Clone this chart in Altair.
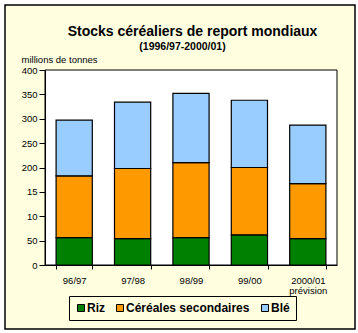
import altair as alt
import pandas as pd

years = ["96/97", "97/98", "98/99", "99/00", "2000/01"]
riz = [56, 54, 56, 62, 54]
secondaires = [127, 144, 154, 138, 113]
ble = [114, 136, 142, 138, 120]
series = ["Riz", "Céréales secondaires", "Blé"]
colors = ["#008000", "#FF9900", "#99CCFF"]
title_text = "Stocks céréaliers de report mondiaux"
subtitle_text = "(1996/97-2000/01)"

rows = []
for i, y in enumerate(years):
    for k, (name, vals) in enumerate(zip(series, [riz, secondaires, ble])):
        rows.append({"annee": y, "serie": name, "valeur": vals[i], "ordre": k})
df = pd.DataFrame(rows)

FONT = "Liberation Sans"
W, H = 292, 195
one = pd.DataFrame({"a": [0]})

frame = alt.Chart(one).mark_rect(
    fill="#FFFFE0", stroke="black", strokeWidth=1.5
).encode(x=alt.value(-40), x2=alt.value(310), y=alt.value(-65), y2=alt.value(259))

plotbg = alt.Chart(one).mark_rect(
    fill="white", stroke="black", strokeWidth=1
).encode(x=alt.value(0), x2=alt.value(W), y=alt.value(0), y2=alt.value(H))

title = alt.Chart(one).mark_text(
    font=FONT, fontSize=14, fontWeight="bold", color="black", align="center", baseline="alphabetic"
).encode(x=alt.value(147.5), y=alt.value(-34), text=alt.value(title_text))

subtitle = alt.Chart(one).mark_text(
    font=FONT, fontSize=10.5, fontWeight="bold", color="black", align="center", baseline="alphabetic"
).encode(x=alt.value(137.5), y=alt.value(-20), text=alt.value(subtitle_text))

bars = alt.Chart(df).mark_bar(stroke="black", strokeWidth=1.2).encode(
    x=alt.X("annee:N", sort=years,
            scale=alt.Scale(paddingInner=0.38, paddingOuter=0.19),
            axis=alt.Axis(title=None, labelAngle=0, tickBand="extent", zindex=1,
                          labelExpr="datum.value == '2000/01' ? ['2000/01', 'prévision'] : datum.label",
                          labelFont=FONT, labelFontSize=9.5, labelColor="black",
                          domainColor="black", tickColor="black", tickSize=4,
                          labelPadding=6, labelLineHeight=10)),
    y=alt.Y("valeur:Q", stack="zero",
            scale=alt.Scale(domain=[0, 400]),
            axis=alt.Axis(values=[0, 50, 100, 150, 200, 250, 300, 350, 400], zindex=1,
                          labelExpr="datum.value == 150 ? '15' : datum.value == 100 ? '10' : datum.label",
                          title="millions de tonnes", titleAngle=0, titleAlign="left",
                          titleX=-24, titleY=-6, titleFont=FONT, titleFontSize=9.5,
                          titleFontWeight="normal", titleColor="black",
                          labelFont=FONT, labelFontSize=9.5, labelColor="black",
                          domainColor="black", tickColor="black", tickSize=6,
                          labelPadding=2, grid=False)),
    color=alt.Color("serie:N", sort=series,
                    scale=alt.Scale(domain=series, range=colors),
                    legend=alt.Legend(title=None, orient="none", direction="horizontal",
                                      legendX=24, legendY=226,
                                      strokeColor="black", padding=6,
                                      symbolType="square", symbolSize=49,
                                      symbolStrokeColor="black", symbolStrokeWidth=1,
                                      labelFont=FONT, labelFontSize=12, labelFontWeight="bold",
                                      labelColor="black", labelOffset=0, columnPadding=9)),
    order=alt.Order("ordre:Q", sort="ascending"),
)

chart = alt.layer(frame, plotbg, title, subtitle, bars).properties(
    width=W, height=H,
    autosize=alt.AutoSizeParams(type="none"),
    padding={"left": 45, "top": 70, "right": 21, "bottom": 68},
    background="white",
).configure_view(stroke=None)

chart.save("out.html", embed_options={"renderer": "svg", "actions": False})
